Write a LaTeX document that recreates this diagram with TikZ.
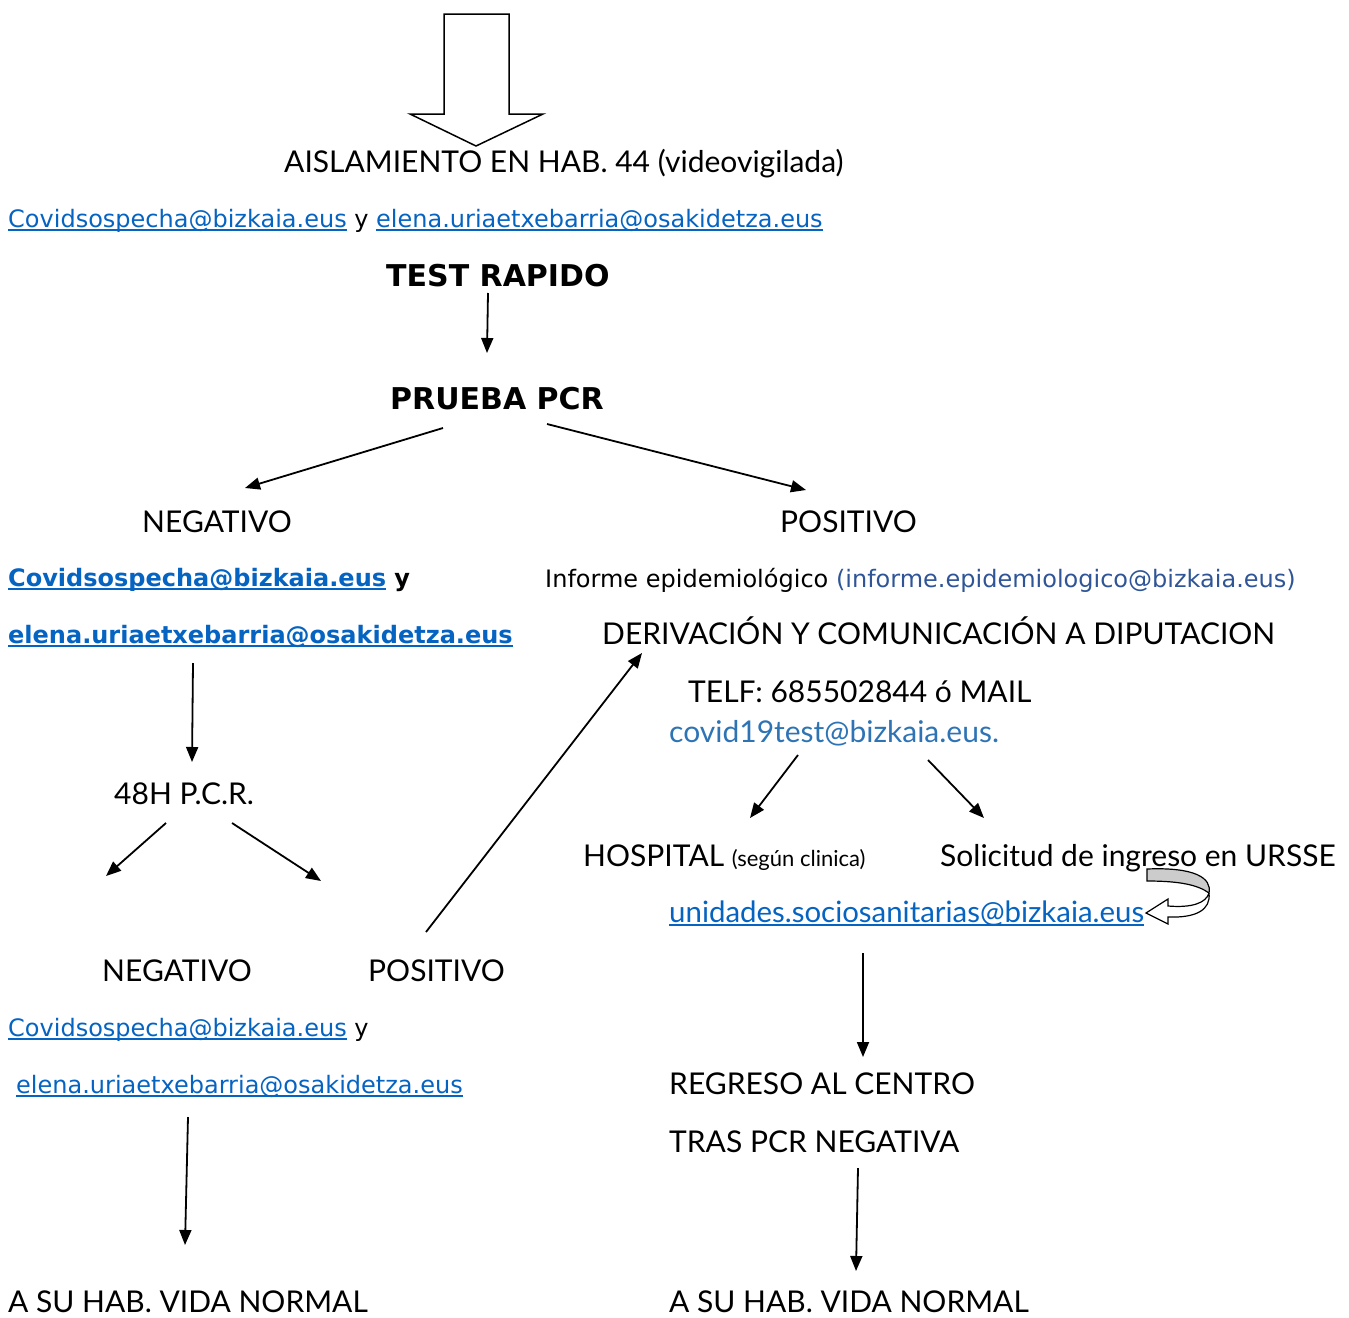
\documentclass[tikz,border=0pt]{standalone}
\usepackage{fontspec}
\usepackage{xcolor}
\usepackage{tikz}
\usetikzlibrary{arrows.meta}

\setmainfont{Lato}
\newfontfamily\verdfont{DejaVu Sans}

\definecolor{linkblue}{HTML}{0563C1}
\definecolor{infoblue}{HTML}{2F5597}
\definecolor{mailblue}{HTML}{2E74B5}

\newsavebox{\lnkbox}
\newcommand{\lnk}[1]{\textcolor{linkblue}{\sbox{\lnkbox}{#1}\rlap{\rule[-4pt]{\wd\lnkbox}{1.6pt}}\usebox{\lnkbox}}}

\begin{document}
\begin{tikzpicture}[x=1pt, y=-1pt,
    txt/.style={anchor=base west, inner sep=0pt, font=\fontsize{30}{36}\selectfont},
    mail/.style={anchor=base west, inner sep=0pt, font=\verdfont\fontsize{24}{28}\selectfont},
    bmail/.style={mail, font=\verdfont\bfseries\fontsize{24}{28}\selectfont},
    title/.style={mail, font=\verdfont\bfseries\fontsize{30}{34}\selectfont},
    arr/.style={-{Triangle[length=15pt,width=12pt]}, line width=1.8pt}]
    \useasboundingbox (0,0) rectangle (1349,1317);

    % top block arrow
    \draw[line width=1.5pt, fill=white] (444,14) -- (509,14) -- (509,114) -- (543,114)
        -- (476,146) -- (410,114) -- (444,114) -- cycle;

    \node[txt] (aisl) at (284,172) {AISLAMIENTO EN HAB. 44 (videovigilada)};
    \node[mail] (mails1) at (8,227) {\lnk{Covidsospecha@bizkaia.eus} y \lnk{elena.uriaetxebarria@osakidetza.eus}};
    \node[title] (test) at (386,286) {TEST RAPIDO};
    \node[title] (prueba) at (390,409) {PRUEBA PCR};

    \node[txt] (neg1) at (142,532) {NEGATIVO};
    \node[txt] (pos1) at (780,532) {POSITIVO};

    % left branch
    \node[bmail] (cov2) at (8,586) {\lnk{Covidsospecha@bizkaia.eus} y};
    \node[bmail] (ele2) at (8,643) {\lnk{elena.uriaetxebarria@osakidetza.eus}};
    \node[txt] (h48) at (114,804) {48H P.C.R.};
    \node[txt] (neg2) at (102,981) {NEGATIVO};
    \node[txt] (pos2) at (368,981) {POSITIVO};
    \node[mail] (cov3) at (8,1036) {\lnk{Covidsospecha@bizkaia.eus} y};
    \node[mail] (ele3) at (16,1093) {\lnk{elena.uriaetxebarria@osakidetza.eus}};
    \node[txt] (vidaL) at (8,1312) {A SU HAB. VIDA NORMAL};

    % right branch
    \node[mail] (informe) at (545,587)
        {Informe epidemiológico \textcolor{infoblue}{(informe.epidemiologico@bizkaia.eus)}};
    \node[txt] (deriv) at (602,644) {DERIVACIÓN Y COMUNICACIÓN A DIPUTACION};
    \node[txt] (telf) at (688,702) {TELF: 685502844 ó MAIL};
    \node[txt, text=mailblue] (covtest) at (669,742) {covid19test@bizkaia.eus.};
    \node[txt] (hosp) at (583,866) {HOSPITAL {\fontsize{22}{24}\selectfont (según clinica)}};
    \node[txt] (soli) at (940,866) {Solicitud de ingreso en URSSE};
    \node[txt, font=\fontsize{29.4}{36}\selectfont] (unid) at (669,922) {\lnk{unidades.sociosanitarias@bizkaia.eus}};
    \node[txt] (regreso) at (669,1094) {REGRESO AL CENTRO};
    \node[txt] (tras) at (669,1152) {TRAS PCR NEGATIVA};
    \node[txt] (vidaR) at (669,1312) {A SU HAB. VIDA NORMAL};

    % curved arrow back to the mail
    \filldraw[line width=1.2pt, fill=gray!40] (1147,869) .. controls (1195,867) and (1212,878) .. (1209,893)
        .. controls (1198,885) and (1180,881) .. (1147,881) -- cycle;
    \filldraw[line width=1.2pt, fill=white] (1209,893) .. controls (1206,903) and (1192,908) .. (1168,906)
        -- (1168,899) -- (1146,913) -- (1168,924) -- (1168,917)
        .. controls (1196,918) and (1211,910) .. (1209,893);

    \draw[arr] ([shift={(102,7)}]test.base west) -- ([shift={(97,-56)}]prueba.base west);
    \draw[arr] ([shift={(53,19)}]prueba.base west) -- ([shift={(103,-44)}]neg1.base west);
    \draw[arr] ([shift={(157,15)}]prueba.base west) -- ([shift={(26,-42)}]pos1.base west);
    \draw[arr] ([shift={(185,20)}]ele2.base west) -- ([shift={(78,-42)}]h48.base west);
    \draw[arr] ([shift={(52,19)}]h48.base west) -- ([shift={(4,-105)}]neg2.base west);
    \draw[arr] ([shift={(118,19)}]h48.base west) -- ([shift={(-47,-100)}]pos2.base west);
    \draw[arr] ([shift={(58,-49)}]pos2.base west) -- ([shift={(40,9)}]deriv.base west);
    \draw[arr] ([shift={(129,13)}]covtest.base west) -- ([shift={(167,-48)}]hosp.base west);
    \draw[arr] ([shift={(259,18)}]covtest.base west) -- ([shift={(44,-48)}]soli.base west);
    \draw[arr] ([shift={(194,31)}]unid.base west) -- ([shift={(194,-37)}]regreso.base west);
    \draw[arr] ([shift={(189,16)}]tras.base west) -- ([shift={(187,-41)}]vidaR.base west);
    \draw[arr] ([shift={(172,24)}]ele3.base west) -- ([shift={(177,-67)}]vidaL.base west);
\end{tikzpicture}
\end{document}
